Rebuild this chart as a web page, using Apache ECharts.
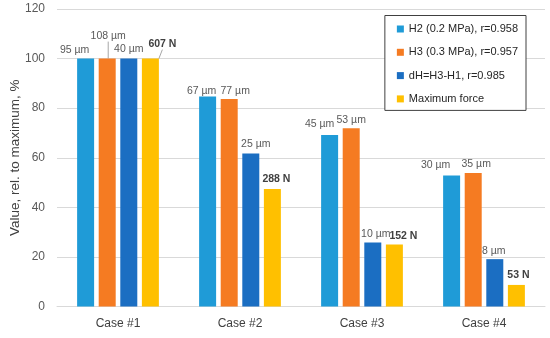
<!DOCTYPE html>
<html><head><meta charset="utf-8">
<script src="https://cdn.jsdelivr.net/npm/echarts@6/dist/echarts.min.js"></script>
<style>html,body{margin:0;padding:0;background:#fff}#c{width:550px;height:338px}</style>
</head><body><div id="c"></div>
<script>
const categories = ['Case #1', 'Case #2', 'Case #3', 'Case #4'];
const seriesNames = ['H2 (0.2 MPa), r=0.958', 'H3 (0.3 MPa), r=0.957', 'dH=H3-H1, r=0.985', 'Maximum force'];
const h2Values = [100, 84.7, 69.2, 52.8];
const h3Values = [100, 83.7, 71.9, 53.8];
const dhValues = [100, 61.7, 25.8, 19.1];
const forceValues = [100, 47.4, 25.0, 8.7];
const h2Abs = [95, 67, 45, 30];
const h3Abs = [108, 77, 53, 35];
const dhAbs = [40, 25, 10, 8];
const forceAbs = [607, 288, 152, 53];
const yTicks = [0, 20, 40, 60, 80, 100, 120];

const colors = ['#1f9bd7', '#f57b22', '#1b6ec2', '#ffc000'];
// label placement tweaks (style only), [dx, dy] per series per category
const labelShift = [
  [[-11, 0], [-6, 3], [-10, -2], [-16, -2]],
  [[1, -14], [6, 1], [0, 0], [3, -1]],
  [[0, -1], [5, -1], [3, 0], [-1, 0]],
  [[12, -6], [4, -1], [9, 0], [2, -1]]
];
const leaderLines = { '1-0': true, '3-0': true };

const values = [h2Values, h3Values, dhValues, forceValues];
const abs = [h2Abs, h3Abs, dhAbs, forceAbs];
const units = ['µm', 'µm', 'µm', 'N'];
const FONT = 'Liberation Sans';

const series = values.map((vals, si) => ({
  name: seriesNames[si],
  type: 'bar',
  barWidth: 17,
  barGap: '27%',
  itemStyle: { color: colors[si] },
  label: {
    show: true,
    position: 'top',
    distance: 3,
    fontFamily: FONT,
    fontSize: 10.5,
    color: si === 3 ? '#404040' : '#595959',
    fontWeight: si === 3 ? 'bold' : 'normal',
    formatter: p => abs[si][p.dataIndex] + ' ' + units[si]
  },
  labelLine: { show: false },
  labelLayout: p => ({ dx: labelShift[si][p.dataIndex][0], dy: labelShift[si][p.dataIndex][1] }),
  data: vals.map((v, i) => leaderLines[si + '-' + i]
    ? { value: v, labelLine: { show: true, lineStyle: { color: '#a6a6a6', width: 1 } } }
    : v)
}));

const chart = echarts.init(document.getElementById('c'), null, { renderer: 'canvas' });
chart.setOption({
  animation: false,
  textStyle: { fontFamily: FONT },
  grid: { left: 57, right: 5, top: 9, bottom: 31.5, containLabel: false, outerBoundsMode: 'none' },
  legend: {
    orient: 'vertical',
    right: 24,
    top: 15.5,
    itemWidth: 7,
    itemHeight: 7,
    itemGap: 12.3,
    icon: 'rect',
    padding: [8, 8, 6, 12],
    borderColor: '#404040',
    borderWidth: 1,
    backgroundColor: '#fff',
    textStyle: { fontFamily: FONT, fontSize: 11, color: '#262626' },
    data: seriesNames
  },
  xAxis: {
    type: 'category',
    data: categories,
    axisLine: { lineStyle: { color: '#d9d9d9' } },
    axisTick: { show: false },
    axisLabel: { fontFamily: FONT, fontSize: 12, color: '#404040', margin: 11 }
  },
  yAxis: {
    type: 'value',
    min: yTicks[0],
    max: yTicks[yTicks.length - 1],
    interval: yTicks[1] - yTicks[0],
    name: 'Value, rel. to maximum, %',
    nameLocation: 'middle',
    nameMoveOverlap: false,
    nameGap: 35,
    nameTextStyle: { fontFamily: FONT, fontSize: 13.5, color: '#404040' },
    axisLine: { show: false },
    axisTick: { show: false },
    axisLabel: { fontFamily: FONT, fontSize: 12, color: '#595959', margin: 12 },
    splitLine: { lineStyle: { color: '#d9d9d9' } }
  },
  series: series
});
</script></body></html>
